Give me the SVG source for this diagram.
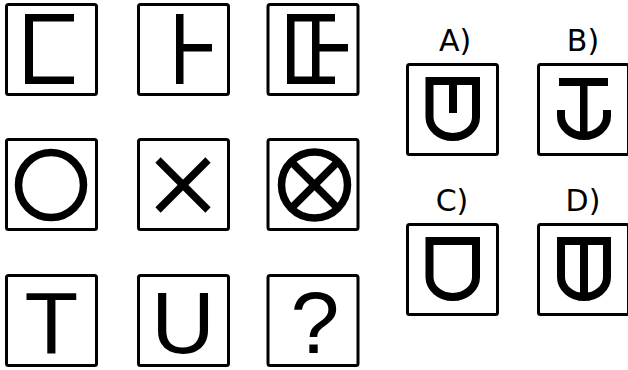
<svg xmlns="http://www.w3.org/2000/svg" width="628" height="370" viewBox="0 0 628 370">
<style>
.box{fill:none;stroke:#000;stroke-width:3;}
.ln{fill:none;stroke:#000;stroke-width:7.5;}
.sh{fill:none;stroke:#000;stroke-width:8;stroke-linejoin:miter;}
.glyph{font-family:"Liberation Sans",Arial,sans-serif;font-size:88px;text-anchor:middle;fill:#000;}
.lab{font-family:"DejaVu Sans","Liberation Sans",sans-serif;font-size:30px;text-anchor:middle;fill:#000;}
</style>
<rect width="628" height="370" fill="#fff"/>
<g id="tile-1-1">
<rect class="box" x="6.5" y="4.5" width="90" height="90" rx="2"/>
<rect x="25" y="14" width="8" height="70"/>
<rect x="25" y="14" width="49" height="7.5"/>
<rect x="25" y="76.5" width="49" height="7.5"/>
</g>
<g id="tile-1-2">
<rect class="box" x="138.5" y="4.5" width="90" height="90" rx="2"/>
<rect x="176" y="14" width="7.5" height="70"/>
<rect x="176" y="44" width="36" height="7.5"/>
</g>
<g id="tile-1-3">
<rect class="box" x="268" y="4.5" width="90" height="90" rx="2"/>
<rect x="287" y="14" width="7.5" height="70"/>
<rect x="287" y="14" width="48" height="7.5"/>
<rect x="287" y="76.5" width="48" height="7.5"/>
<rect x="312" y="14" width="7.5" height="70"/>
<rect x="312" y="44" width="36" height="7.5"/>
</g>
<g id="tile-2-1">
<rect class="box" x="6.5" y="139.5" width="90" height="90" rx="2"/>
<circle class="ln" cx="51" cy="185" r="32.5"/>
</g>
<g id="tile-2-2">
<rect class="box" x="138.5" y="139.5" width="90" height="90" rx="2"/>
<line class="ln" x1="158" y1="160" x2="208" y2="210"/>
<line class="ln" x1="158" y1="210" x2="208" y2="160"/>
</g>
<g id="tile-2-3">
<rect class="box" x="268" y="139.5" width="90" height="90" rx="2"/>
<circle class="ln" cx="314.5" cy="185" r="33"/>
<line class="ln" x1="290.5" y1="161" x2="338.5" y2="209"/>
<line class="ln" x1="290.5" y1="209" x2="338.5" y2="161"/>
</g>
<g id="tile-3-1">
<rect class="box" x="6.5" y="275.5" width="90" height="90" rx="2"/>
<text class="glyph" x="51.5" y="353">T</text>
</g>
<g id="tile-3-2">
<rect class="box" x="138.5" y="275.5" width="90" height="90" rx="2"/>
<text class="glyph" x="183" y="353">U</text>
</g>
<g id="tile-3-3">
<rect class="box" x="268" y="275.5" width="90" height="90" rx="2"/>
<text class="glyph" x="315" y="353">?</text>
</g>
<g id="option-A">
<text class="lab" x="455" y="51">A)</text>
<rect class="box" x="407.5" y="64.5" width="90" height="90" rx="2"/>
<path class="sh" d="M429.5,81 H476 V117 A23.25,20 0 0 1 429.5,117 Z"/>
<rect x="449" y="78" width="8" height="35"/>
</g>
<g id="option-B">
<text class="lab" x="583" y="51">B)</text>
<rect class="box" x="538.5" y="64.5" width="90" height="90" rx="2"/>
<rect x="559" y="78" width="49" height="8"/>
<rect x="580" y="78" width="7.5" height="60"/>
<path class="sh" d="M561,110 V116 A23,20 0 0 0 607,116 V110"/>
</g>
<g id="option-C">
<text class="lab" x="452" y="211">C)</text>
<rect class="box" x="407.5" y="224.5" width="90" height="90" rx="2"/>
<path class="sh" d="M429.5,241 H476 V277 A23.25,20 0 0 1 429.5,277 Z"/>
</g>
<g id="option-D">
<text class="lab" x="583" y="211">D)</text>
<rect class="box" x="538.5" y="224.5" width="90" height="90" rx="2"/>
<path class="sh" d="M561,241 H607 V277 A23,20 0 0 1 561,277 Z"/>
<rect x="580" y="241" width="8" height="57"/>
</g>
</svg>
